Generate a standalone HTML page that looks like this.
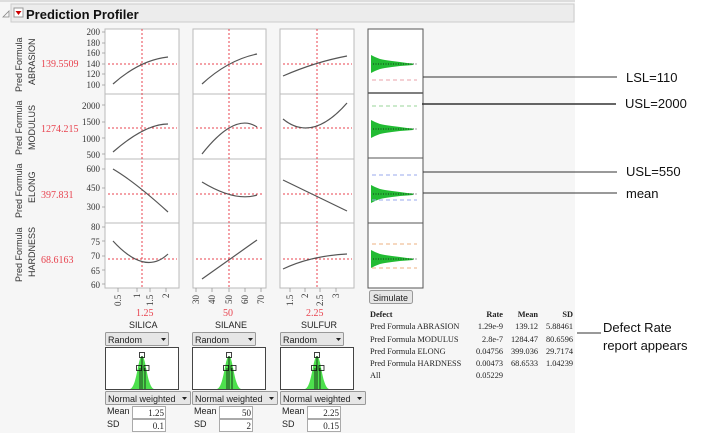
<!DOCTYPE html>
<html><head><meta charset="utf-8"><style>
body{margin:0;background:#fff;}
svg{display:block;font-family:"Liberation Sans",sans-serif;}
</style></head><body>
<svg width="708" height="433" viewBox="0 0 708 433" xmlns="http://www.w3.org/2000/svg">
<rect x="0" y="0" width="575" height="433" fill="#f6f6f6"/>
<rect x="0" y="0" width="575" height="2" fill="#ddd"/>
<path d="M3,17 L9,11 L9,17 Z" fill="none" stroke="#888" stroke-width="0.8"/>
<rect x="11" y="4" width="563" height="18" fill="#ececec" stroke="#ccc"/>
<rect x="14" y="8" width="9" height="9" fill="#fff" stroke="#999"/>
<path d="M15.5,11 L21.5,11 L18.5,15 Z" fill="#c00"/>
<text x="26" y="19" font-size="13" font-weight="bold" fill="#111">Prediction Profiler</text>

<g font-size="9.5" fill="#333">
<text transform="translate(22,92) rotate(-90)" font-size="9">Pred Formula</text>
<text transform="translate(35,85) rotate(-90)" font-size="9">ABRASION</text>
<text transform="translate(22,155) rotate(-90)" font-size="9">Pred Formula</text>
<text transform="translate(35,150) rotate(-90)" font-size="9">MODULUS</text>
<text transform="translate(22,218) rotate(-90)" font-size="9">Pred Formula</text>
<text transform="translate(35,203) rotate(-90)" font-size="9">ELONG</text>
<text transform="translate(22,282) rotate(-90)" font-size="9">Pred Formula</text>
<text transform="translate(35,277) rotate(-90)" font-size="9">HARDNESS</text>
</g>
<g font-family="Liberation Serif,serif" font-size="10" fill="#e8434f">
<text x="41" y="67">139.5509</text>
<text x="41" y="132">1274.215</text>
<text x="41" y="198">397.831</text>
<text x="41" y="263">68.6163</text>
<text x="136" y="316">1.25</text>
<text x="223" y="316">50</text>
<text x="306" y="316">2.25</text>
</g>
<g fill="#fff" stroke="#bbb">
<rect x="105" y="29" width="74" height="259"/>
<rect x="193" y="29" width="73" height="259"/>
<rect x="280" y="29" width="74" height="259"/>
</g>
<g stroke="#bbb">
<path d="M105,94H179M193,94H266M280,94H354M105,159H179M193,159H266M280,159H354M105,223H179M193,223H266M280,223H354"/>
</g>
<g font-family="Liberation Serif,serif" font-size="9" fill="#333" text-anchor="end">
<text x="100" y="35">200</text><text x="100" y="46">180</text><text x="100" y="56">160</text><text x="100" y="67">140</text><text x="100" y="77">120</text><text x="100" y="88">100</text>
<text x="100" y="109">2000</text><text x="100" y="125">1500</text><text x="100" y="142">1000</text><text x="100" y="158">500</text>
<text x="100" y="172">600</text><text x="100" y="191">450</text><text x="100" y="210">300</text>
<text x="100" y="230">80</text><text x="100" y="245">75</text><text x="100" y="259">70</text><text x="100" y="274">65</text><text x="100" y="288">60</text>
</g>
<g stroke="#999" stroke-width="0.8">
<path d="M105,32h-3M105,43h-3M105,53h-3M105,64h-3M105,74h-3M105,85h-3M105,105h-3M105,122h-3M105,138h-3M105,154h-3M105,169h-3M105,188h-3M105,207h-3M105,227h-3M105,241h-3M105,256h-3M105,270h-3M105,284h-3"/>
<path d="M118,288v4M137,288v4M150,288v4M166,288v4M196,288v4M212,288v4M229,288v4M245,288v4M261,288v4M290,288v4M305,288v4M320,288v4M336,288v4"/>
</g>
<g font-family="Liberation Serif,serif" font-size="9" fill="#333">
<text transform="translate(121,306) rotate(-90)">0.5</text>
<text transform="translate(140,298) rotate(-90)">1</text>
<text transform="translate(153,306) rotate(-90)">1.5</text>
<text transform="translate(169,298) rotate(-90)">2</text>
<text transform="translate(199,304) rotate(-90)">30</text>
<text transform="translate(215,304) rotate(-90)">40</text>
<text transform="translate(232,304) rotate(-90)">50</text>
<text transform="translate(248,304) rotate(-90)">60</text>
<text transform="translate(264,304) rotate(-90)">70</text>
<text transform="translate(293,306) rotate(-90)">1.5</text>
<text transform="translate(308,298) rotate(-90)">2</text>
<text transform="translate(323,306) rotate(-90)">2.5</text>
<text transform="translate(339,298) rotate(-90)">3</text>
</g>
<g stroke="#e8434f" stroke-dasharray="2,2" stroke-width="1">
<path d="M142,29V288M229,29V288M317,29V288"/>
<path d="M108,64H177M196,64H264M283,64H352"/>
<path d="M108,128H177M196,128H264M283,128H352"/>
<path d="M108,194H177M196,194H264M283,194H352"/>
<path d="M108,259H177M196,259H264M283,259H352"/>
</g>
<g fill="none" stroke="#555" stroke-width="1.2">
<path d="M113,84 Q140,60 168,57"/><path d="M202,84 Q228,60 257,54"/><path d="M283,76 Q315,62 347,56"/>
<path d="M113,152 Q145,124 168,124"/><path d="M202,154 Q235,112 257,127"/><path d="M283,119 Q312,143 347,103"/>
<path d="M113,169 Q135,182 168,212"/><path d="M202,182 Q235,202 257,195"/><path d="M283,180 L347,211"/>
<path d="M113,241 Q145,276 168,254"/><path d="M202,279 L257,240"/><path d="M283,269 Q310,256 347,254"/>
</g>
<rect x="368" y="29" width="55" height="259" fill="#fff" stroke="#555"/>
<g stroke="#555"><line x1="368" y1="93" x2="423" y2="93" stroke-width="1.5"/><line x1="368" y1="158" x2="423" y2="158"/><line x1="368" y1="223" x2="423" y2="223"/></g>
<g fill="#22bb33">
<path id="h" d="M371,55 L375,57 L380,59 L385,60 L392,61 L400,62 L407,63 L413,63.5 L413,65 L407,65.5 L400,66 L392,67 L385,68 L380,69 L375,71 L371,73 Z"/>
<use href="#h" y="65"/><use href="#h" y="130"/><use href="#h" y="195"/>
</g>
<g stroke="#111" stroke-dasharray="1,1.5" stroke-width="0.8">
<path d="M373,64H417M373,129H417M373,194H417M373,259H417"/>
</g>
<g stroke-dasharray="4,3" stroke-width="1">
<path d="M372,80H417" stroke="#e8a0a8"/>
<path d="M372,106H417" stroke="#9ad49a"/>
<path d="M372,175H417M372,200H417" stroke="#99aaee"/>
<path d="M372,244H417M372,268H417" stroke="#eeb080"/>
</g>
<g stroke="#333" stroke-width="1">
<line x1="423" y1="77" x2="617" y2="77"/>
<line x1="422" y1="104" x2="616" y2="104" stroke-width="1.5"/>
<line x1="423" y1="172" x2="617" y2="172"/>
<line x1="423" y1="193" x2="617" y2="193"/>
<line x1="577" y1="333" x2="601" y2="333"/>
</g>
<g font-size="13" fill="#111">
<text x="626" y="82">LSL=110</text>
<text x="625" y="108">USL=2000</text>
<text x="626" y="176">USL=550</text>
<text x="626" y="198">mean</text>
<text x="603" y="332">Defect Rate</text>
<text x="603" y="350">report appears</text>
</g>
<rect x="369.5" y="290.5" width="43" height="13" rx="2" fill="#e6e6e6" stroke="#999"/>
<text x="373" y="301" font-size="9" fill="#222">Simulate</text>
<g font-family="Liberation Serif,serif" font-size="8.3" fill="#222">
<text x="370" y="317" font-weight="bold">Defect</text>
<g text-anchor="end" font-weight="bold"><text x="503" y="317">Rate</text><text x="538" y="317">Mean</text><text x="573" y="317">SD</text></g>
<text x="370" y="329">Pred Formula ABRASION</text>
<text x="370" y="342">Pred Formula MODULUS</text>
<text x="370" y="354">Pred Formula ELONG</text>
<text x="370" y="366">Pred Formula HARDNESS</text>
<text x="370" y="378">All</text>
<g text-anchor="end">
<text x="503" y="329">1.29e-9</text><text x="538" y="329">139.12</text><text x="573" y="329">5.88461</text>
<text x="503" y="342">2.8e-7</text><text x="538" y="342">1284.47</text><text x="573" y="342">80.6596</text>
<text x="503" y="354">0.04756</text><text x="538" y="354">399.036</text><text x="573" y="354">29.7174</text>
<text x="503" y="366">0.00473</text><text x="538" y="366">68.6533</text><text x="573" y="366">1.04239</text>
<text x="503" y="378">0.05229</text>
</g>
</g>
<g font-size="9" fill="#222">
<text x="129" y="328">SILICA</text><text x="215" y="328">SILANE</text><text x="301" y="328">SULFUR</text>
</g>
<g id="ctl">
<rect x="105.5" y="332.5" width="63" height="13" rx="1" fill="#e6e6e6" stroke="#999"/>
<text x="108" y="343" font-size="9" fill="#222">Random</text>
<path d="M161,338 L166,338 L163.5,341 Z" fill="#222"/>
<rect x="105.5" y="347.5" width="73" height="42" fill="#fff" stroke="#444"/>
<path d="M130,389 C137,387 138,356 142,356 C146,356 147,387 154,389 Z" fill="#4de04d"/>
<g stroke="#111" fill="none" stroke-width="0.8">
<path d="M140,368V389M142,356V389M145,368V389"/>
<rect x="139.5" y="352.5" width="5" height="5"/><rect x="136.5" y="365.5" width="5" height="5"/><rect x="144" y="365.5" width="5" height="5"/>
</g>
<rect x="105.5" y="391.5" width="85" height="13" rx="1" fill="#e6e6e6" stroke="#999"/>
<text x="108" y="402" font-size="9" fill="#222">Normal weighted</text>
<path d="M182,397 L187,397 L184.5,400 Z" fill="#222"/>
<text x="107" y="414" font-size="9" fill="#222">Mean</text>
<text x="107" y="427" font-size="9" fill="#222">SD</text>
<rect x="132.5" y="406.5" width="33" height="12" fill="#fff" stroke="#aaa"/>
<rect x="132.5" y="419.5" width="33" height="12" fill="#fff" stroke="#aaa"/>
</g>
<use href="#ctl" x="87"/><use href="#ctl" x="175"/>
<g font-family="Liberation Serif,serif" font-size="9" fill="#222" text-anchor="end">
<text x="164" y="416">1.25</text><text x="164" y="429">0.1</text>
<text x="251" y="416">50</text><text x="251" y="429">2</text>
<text x="339" y="416">2.25</text><text x="339" y="429">0.15</text>
</g>
</svg>
</body></html>
